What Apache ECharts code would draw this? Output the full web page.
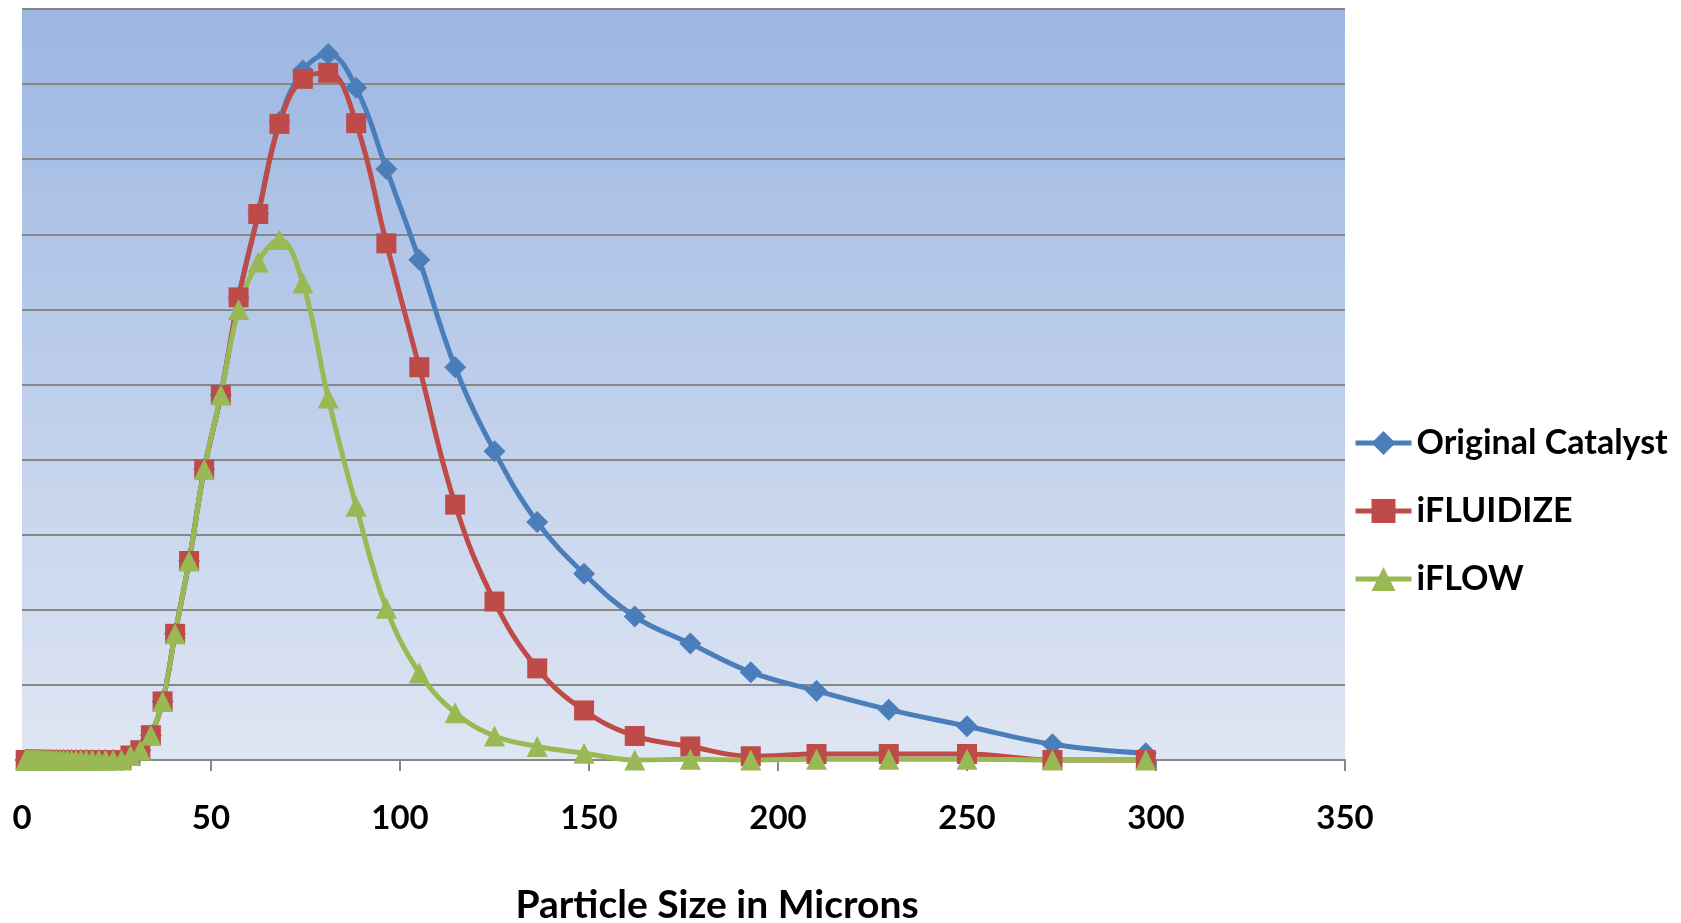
<!DOCTYPE html>
<html>
<head>
<meta charset="utf-8">
<title>Particle Size Distribution</title>
<script src="https://cdn.jsdelivr.net/npm/echarts@6/dist/echarts.min.js"></script>
<style>
  html, body { margin: 0; padding: 0; background: #fff; }
  #chart { width: 1681px; height: 923px; }
</style>
</head>
<body>
<div id="chart"></div>
<script>
// 粒径通道（微米）
const sizeMicrons = [
  0.97, 1.06, 1.16, 1.26, 1.38, 1.50, 1.64, 1.78, 1.95, 2.12, 2.31, 2.52, 2.75,
  3.00, 3.27, 3.57, 3.89, 4.24, 4.62, 5.04, 5.50, 6.00, 6.54, 7.13, 7.78, 8.48, 9.25,
  10.1, 11.0, 12.0, 13.1, 14.3, 15.6, 17.0, 18.6, 20.3, 22.1, 24.1, 26.3,
  28.7, 31.3, 34.1, 37.2, 40.5, 44.2, 48.2, 52.6, 57.3, 62.5, 68.1, 74.3, 81.0, 88.4,
  96.4, 105.1, 114.6, 125.0, 136.3, 148.7, 162.1, 176.8, 192.8, 210.2, 229.3, 250.0,
  272.6, 297.3
];

const originalCatalyst = [
  0, 0, 0, 0, 0, 0, 0, 0, 0, 0, 0, 0, 0,
  0, 0, 0, 0, 0, 0, 0, 0, 0, 0, 0, 0, 0, 0,
  0, 0, 0, 0, 0, 0, 0, 0, 0, 0, 0, 0,
  0.06, 0.13, 0.33, 0.78, 1.68, 2.65, 3.87, 4.86, 6.16, 7.28, 8.5, 9.18, 9.4, 8.95,
  7.87, 6.66, 5.23, 4.11, 3.17, 2.48, 1.91, 1.55, 1.17, 0.92, 0.67, 0.45,
  0.21, 0.09
];

const iFluidize = [
  0, 0, 0, 0, 0, 0, 0, 0, 0, 0, 0, 0, 0,
  0, 0, 0, 0, 0, 0, 0, 0, 0, 0, 0, 0, 0, 0,
  0, 0, 0, 0, 0, 0, 0, 0, 0, 0, 0, 0,
  0.06, 0.13, 0.33, 0.78, 1.68, 2.65, 3.87, 4.86, 6.16, 7.27, 8.47, 9.07, 9.15, 8.48,
  6.88, 5.23, 3.4, 2.11, 1.22, 0.66, 0.32, 0.18, 0.05, 0.08, 0.08, 0.08,
  0, 0
];

const iFlow = [
  0, 0, 0, 0, 0, 0, 0, 0, 0, 0, 0, 0, 0,
  0, 0, 0, 0, 0, 0, 0, 0, 0, 0, 0, 0, 0, 0,
  0, 0, 0, 0, 0, 0, 0, 0, 0, 0, 0, 0,
  0.06, 0.13, 0.33, 0.78, 1.68, 2.65, 3.87, 4.86, 6.0, 6.63, 6.93, 6.35, 4.82, 3.38,
  2.02, 1.16, 0.63, 0.32, 0.18, 0.09, 0, 0.01, 0, 0.01, 0.01, 0.01,
  0, 0
];

const xTicks = [0, 50, 100, 150, 200, 250, 300, 350];

const FONT = 'Lato, "Open Sans", sans-serif';

function pairs(values) {
  return sizeMicrons.map((x, i) => [x, values[i]]);
}

function makeSeries(name, color, symbol, symbolSize, values) {
  return {
    name,
    type: 'line',
    smooth: 0.4,
    clip: false,
    symbol,
    symbolSize,
    lineStyle: { width: 5, color },
    itemStyle: { color },
    data: pairs(values)
  };
}

const chart = echarts.init(document.getElementById('chart'));

chart.setOption({
  animation: false,
  title: {
    text: 'Particle Size in Microns',
    left: 712,
    top: 881,
    textAlign: 'center',
    textStyle: { fontFamily: FONT, fontSize: 39, fontWeight: 'bold', color: '#000' }
  },
  legend: {
    orient: 'vertical',
    left: 1348,
    top: 421,
    itemWidth: 56,
    itemHeight: 30,
    itemGap: 34,
    lineStyle: { width: 5 },
    textStyle: { fontFamily: FONT, fontSize: 34, fontWeight: 'bold', color: '#000' },
    data: ['Original Catalyst', 'iFLUIDIZE', 'iFLOW']
  },
  grid: {
    left: 22,
    right: 336,
    top: 9,
    bottom: 163,
    show: true,
    borderWidth: 0,
    backgroundColor: new echarts.graphic.LinearGradient(0, 0, 0, 1, [
      { offset: 0, color: '#9bb6e2' },
      { offset: 1, color: '#dfe6f3' }
    ])
  },
  xAxis: {
    type: 'value',
    min: xTicks[0],
    max: xTicks[xTicks.length - 1],
    interval: 50,
    axisLine: { show: true, lineStyle: { color: '#878787', width: 2 } },
    axisTick: { show: true, length: 11, lineStyle: { color: '#878787', width: 2 } },
    axisLabel: {
      margin: 42,
      fontFamily: FONT,
      fontSize: 33,
      fontWeight: 'bold',
      color: '#000'
    },
    splitLine: { show: false }
  },
  yAxis: {
    type: 'value',
    min: 0,
    max: 10,
    interval: 1,
    axisLine: { show: false },
    axisTick: { show: false },
    axisLabel: { show: false },
    splitLine: { lineStyle: { color: '#878787', width: 2 } }
  },
  series: [
    makeSeries('Original Catalyst', '#4a7ebb', 'diamond', 22, originalCatalyst),
    makeSeries('iFLUIDIZE', '#be4b48', 'rect', 20, iFluidize),
    makeSeries('iFLOW', '#98b954', 'triangle', 21, iFlow)
  ]
});
</script>
</body>
</html>
